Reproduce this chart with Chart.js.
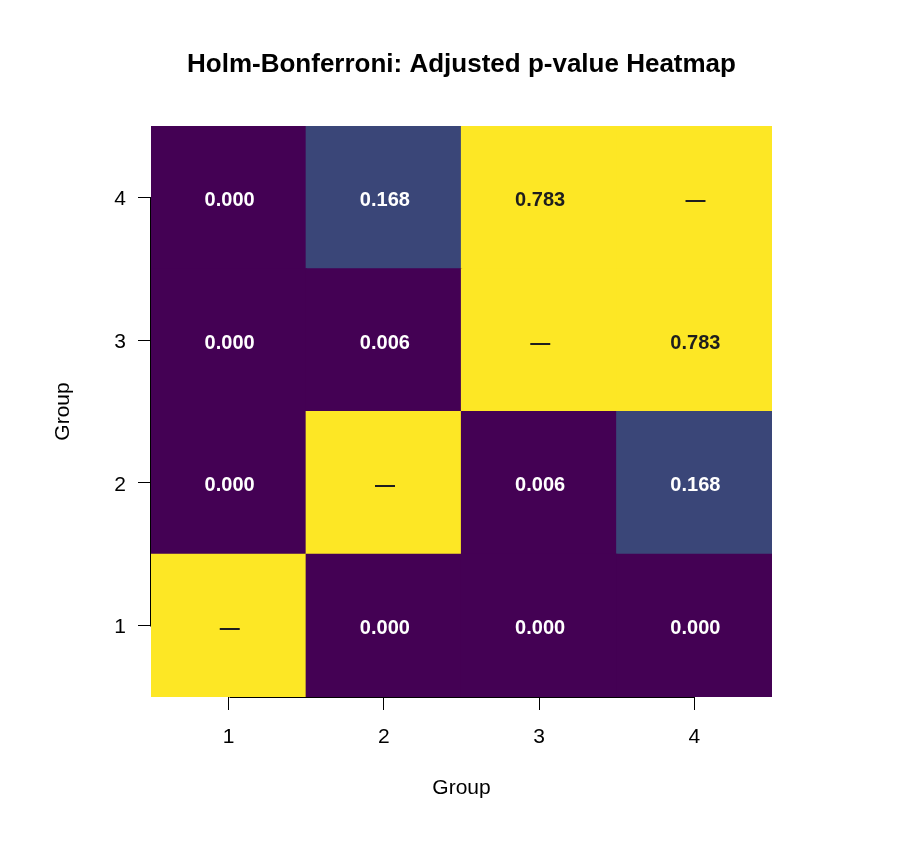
<!DOCTYPE html>
<html>
<head>
<meta charset="utf-8">
<script src="https://cdn.jsdelivr.net/npm/chart.js@4.4.1/dist/chart.umd.min.js"></script>
<style>
  html, body { margin: 0; padding: 0; background: #ffffff; }
  #wrap { width: 900px; height: 850px; }
</style>
</head>
<body>
<div id="wrap"><canvas id="heat"></canvas></div>
<script>
// groups on both axes
const groups = ["1", "2", "3", "4"];

// adjusted p-values, one array per row (y group 1..4), columns are x groups 1..4
// null = diagonal (shown as a dash)
const row1 = [null, 0.000, 0.000, 0.000];
const row2 = [0.000, null, 0.006, 0.168];
const row3 = [0.000, 0.006, null, 0.783];
const row4 = [0.000, 0.168, 0.783, null];
const rows = [row1, row2, row3, row4];

const yTicks = [1, 2, 3, 4];

// colour bins
function cellColor(p) {
    if (p === null) return "#FDE725";
    if (p < 0.05) return "#440154";
    if (p < 0.5) return "#3A4678";
    return "#FDE725";
}
function textColor(p) {
    if (p === null || p >= 0.5) return "#1e1e1e";
    return "#ffffff";
}

const datasets = rows.map(function (r, i) {
    return {
        label: "Group " + (i + 1),
        data: r.map(function () { return [i + 0.5, i + 1.5]; }),
        backgroundColor: r.map(cellColor),
        borderWidth: 0,
        inflateAmount: 0.6,
        grouped: false,
        barPercentage: 1,
        categoryPercentage: 1
    };
});

const FONT = "'Liberation Sans', Arial, sans-serif";

const cellText = {
    id: "cellText",
    afterDatasetsDraw(chart) {
        const ctx = chart.ctx;
        const xs = chart.scales.x, ys = chart.scales.y;
        ctx.save();
        ctx.font = "bold 20px " + FONT;
        ctx.textAlign = "center";
        ctx.textBaseline = "middle";
        rows.forEach(function (r, i) {
            r.forEach(function (p, j) {
                const x = xs.getPixelForValue(j);
                const y = ys.getPixelForValue(i + 1);
                ctx.fillStyle = textColor(p);
                ctx.fillText(p === null ? "\u2014" : p.toFixed(3), x + 1, y + 3);
            });
        });
        ctx.restore();
    },
    afterDraw(chart) {
        const ctx = chart.ctx;
        const xs = chart.scales.x, ys = chart.scales.y;
        const a = chart.chartArea;
        ctx.save();
        ctx.strokeStyle = "#000";
        ctx.lineWidth = 1;
        ctx.beginPath();
        const by = Math.round(a.bottom) + 0.5;
        ctx.moveTo(Math.round(xs.getPixelForValue(0)) + 0.5, by);
        ctx.lineTo(Math.round(xs.getPixelForValue(3)) + 0.5, by);
        const lx = Math.round(a.left) - 0.5;
        ctx.moveTo(lx, Math.round(ys.getPixelForValue(1)) + 0.5);
        ctx.lineTo(lx, Math.round(ys.getPixelForValue(4)) + 0.5);
        ctx.stroke();
        // title
        ctx.fillStyle = "#000";
        ctx.font = "bold 26px " + FONT;
        ctx.textAlign = "center";
        ctx.textBaseline = "middle";
        ctx.fillText("Holm-Bonferroni: Adjusted p-value Heatmap", (a.left + a.right) / 2, 65);
        ctx.restore();
    }
};

const config = {
    type: "bar",
    data: { labels: groups, datasets: datasets },
    options: {
        responsive: false,
        animation: false,
        layout: { padding: { left: 0, right: 128, top: 126, bottom: 0 } },
        plugins: {
            legend: { display: false },
            tooltip: { enabled: false },
            title: { display: false }
        },
        scales: {
            x: {
                type: "category",
                offset: true,
                grid: { display: true, offset: false, drawOnChartArea: false, drawTicks: true,
                        tickLength: 13, color: "#000", lineWidth: 1 },
                border: { display: false },
                ticks: { color: "#000", padding: 15, font: { family: FONT, size: 21 } },
                title: { display: true, text: "Group", color: "#000",
                         font: { family: FONT, size: 21 },
                         padding: { top: 0, bottom: 49 } },
                afterFit(scale) { scale.height = 153; }
            },
            y: {
                type: "linear",
                min: 0.5,
                max: 4.5,
                afterBuildTicks(scale) {
                    scale.ticks = yTicks.map(function (v) { return { value: v }; });
                },
                grid: { display: true, drawOnChartArea: false, drawTicks: true,
                        tickLength: 13, color: "#000", lineWidth: 1 },
                border: { display: false },
                ticks: { color: "#000", padding: 12, labelOffset: 2, font: { family: FONT, size: 21 },
                         callback: function (v) { return String(v); } },
                title: { display: true, text: "Group", color: "#000",
                         font: { family: FONT, size: 21 },
                         padding: { top: 51, bottom: 0 } },
                afterFit(scale) { scale.width = 151; }
            }
        }
    },
    plugins: [cellText]
};

const canvas = document.getElementById("heat");
canvas.width = 900;
canvas.height = 850;
const chart = new Chart(canvas, config);
</script>
</body>
</html>
